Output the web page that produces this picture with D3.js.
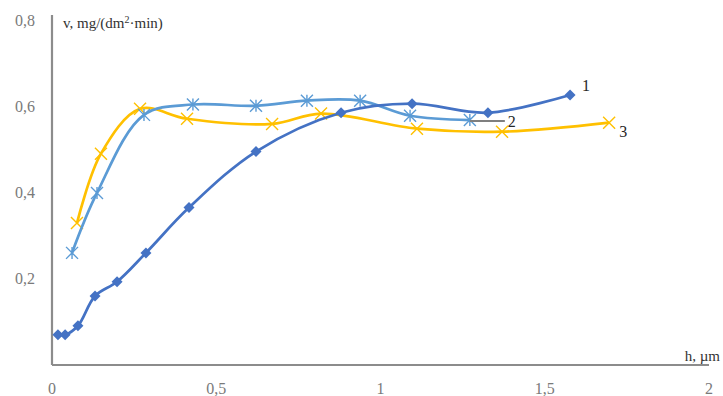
<!DOCTYPE html>
<html>
<head>
<meta charset="utf-8">
<script src="https://cdn.jsdelivr.net/npm/d3@7"></script>
<style>
  body { margin: 0; background: #fff; }
  svg { display: block; }
</style>
</head>
<body>
<div id="chart"></div>
<script>
// chart size
const WIDTH = 723;
const HEIGHT = 396;

// axis ticks
const xTicks = [0, 0.5, 1, 1.5, 2];
const yTicks = [0.2, 0.4, 0.6, 0.8];

// series 1 (diamonds)
const h1 = [0.018, 0.04, 0.079, 0.131, 0.198, 0.286, 0.417, 0.621, 0.88, 1.096, 1.327, 1.577];
const v1 = [0.07, 0.07, 0.091, 0.16, 0.193, 0.26, 0.365, 0.495, 0.585, 0.606, 0.585, 0.626];

// series 2 (asterisks)
const h2 = [0.061, 0.137, 0.28, 0.429, 0.621, 0.776, 0.938, 1.09, 1.272];
const v2 = [0.26, 0.399, 0.58, 0.604, 0.601, 0.613, 0.613, 0.578, 0.568];

// series 3 (crosses)
const h3 = [0.076, 0.149, 0.268, 0.411, 0.67, 0.819, 1.111, 1.37, 1.696];
const v3 = [0.329, 0.49, 0.594, 0.571, 0.559, 0.583, 0.548, 0.541, 0.562];

const seriesNames = ["1", "2", "3"];
const colors = ["#4472C4", "#5B9BD5", "#FFC000"];

// scales
const x = d3.scaleLinear().domain([0, 2]).range([52, 709]);
const y = d3.scaleLinear().domain([0, 0.8]).range([365, 20]);

const svg = d3.select("#chart")
  .append("svg")
  .attr("width", WIDTH)
  .attr("height", HEIGHT)
  .style("font-family", "'Liberation Serif', 'DejaVu Serif', serif");

// axes lines
svg.append("line")
  .attr("x1", x(0)).attr("x2", x(0))
  .attr("y1", 15).attr("y2", y(0))
  .attr("stroke", "#8c8c8c").attr("stroke-width", 2.2);

svg.append("line")
  .attr("x1", x(0)).attr("x2", x(2))
  .attr("y1", y(0)).attr("y2", y(0))
  .attr("stroke", "#8c8c8c").attr("stroke-width", 2.2);

// tick labels (comma decimal)
const fmt = (d) => String(d).replace(".", ",");

svg.append("g")
  .selectAll("text")
  .data(yTicks)
  .join("text")
  .attr("x", 35)
  .attr("y", (d) => y(d))
  .attr("dy", "0.35em")
  .attr("text-anchor", "end")
  .attr("fill", "#7a7a7a")
  .style("font-size", "16px")
  .text(fmt);

svg.append("g")
  .selectAll("text")
  .data(xTicks)
  .join("text")
  .attr("x", (d) => x(d))
  .attr("y", 388)
  .attr("dy", "0.35em")
  .attr("text-anchor", "middle")
  .attr("fill", "#7a7a7a")
  .style("font-size", "16px")
  .text(fmt);

// axis titles
const yTitle = svg.append("text")
  .attr("x", 63)
  .attr("y", 28)
  .attr("fill", "#333")
  .style("font-size", "15px");
yTitle.append("tspan").text("v, mg/(dm");
yTitle.append("tspan").attr("dy", -5).style("font-size", "10px").text("2");
yTitle.append("tspan").attr("dy", 5).text("·min)");

svg.append("text")
  .attr("x", 720)
  .attr("y", 361)
  .attr("text-anchor", "end")
  .attr("fill", "#333")
  .style("font-size", "15px")
  .text("h, µm");

// build series
const series = [
  { name: seriesNames[0], h: h1, v: v1, color: colors[0], marker: "diamond" },
  { name: seriesNames[1], h: h2, v: v2, color: colors[1], marker: "asterisk" },
  { name: seriesNames[2], h: h3, v: v3, color: colors[2], marker: "cross" },
];

const line = d3.line()
  .x((d) => x(d[0]))
  .y((d) => y(d[1]))
  .curve(d3.curveCatmullRom.alpha(0.5));

// draw in order 3, 2, 1 so the dark line sits on top
[2, 1, 0].forEach((i) => {
  const s = series[i];
  const pts = s.h.map((h, j) => [h, s.v[j]]);

  svg.append("path")
    .datum(pts)
    .attr("fill", "none")
    .attr("stroke", s.color)
    .attr("stroke-width", 2.7)
    .attr("d", line);

  const g = svg.append("g");
  pts.forEach((p) => {
    const px = x(p[0]), py = y(p[1]);
    if (s.marker === "diamond") {
      g.append("path")
        .attr("d", `M${px},${py - 5.5}L${px + 5.5},${py}L${px},${py + 5.5}L${px - 5.5},${py}Z`)
        .attr("fill", s.color);
    } else if (s.marker === "asterisk") {
      const r = 6;
      g.append("path")
        .attr("d",
          `M${px - r},${py - r}L${px + r},${py + r}` +
          `M${px - r},${py + r}L${px + r},${py - r}` +
          `M${px},${py - r}L${px},${py + r}`)
        .attr("stroke", s.color)
        .attr("stroke-width", 1.4)
        .attr("fill", "none");
    } else {
      const r = 6;
      g.append("path")
        .attr("d",
          `M${px - r},${py - r}L${px + r},${py + r}` +
          `M${px - r},${py + r}L${px + r},${py - r}`)
        .attr("stroke", s.color)
        .attr("stroke-width", 1.4)
        .attr("fill", "none");
    }
  });
});

// series labels
const last = (arr) => arr[arr.length - 1];

svg.append("text")
  .attr("x", x(last(h1)) + 12)
  .attr("y", y(last(v1)) - 4)
  .attr("fill", "#262626")
  .style("font-size", "16px")
  .text(seriesNames[0]);

// leader line for series 2
svg.append("line")
  .attr("x1", x(last(h2)))
  .attr("x2", x(last(h2)) + 35)
  .attr("y1", y(last(v2)) + 1)
  .attr("y2", y(last(v2)) + 1)
  .attr("stroke", "#7f7f7f")
  .attr("stroke-width", 2);

svg.append("text")
  .attr("x", x(last(h2)) + 38)
  .attr("y", y(last(v2)) + 7)
  .attr("fill", "#262626")
  .style("font-size", "16px")
  .text(seriesNames[1]);

svg.append("text")
  .attr("x", x(last(h3)) + 10)
  .attr("y", y(last(v3)) + 14)
  .attr("fill", "#262626")
  .style("font-size", "16px")
  .text(seriesNames[2]);
</script>
</body>
</html>
